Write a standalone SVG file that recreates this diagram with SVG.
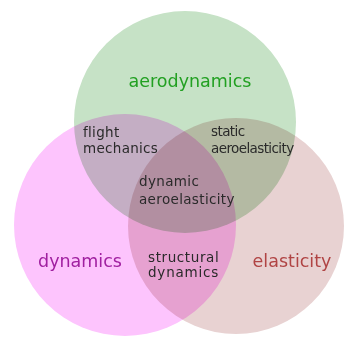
<svg xmlns="http://www.w3.org/2000/svg" width="345" height="337" viewBox="0 0 345 337">
<style>
.c{mix-blend-mode:multiply}
.big{font-family:"DejaVu Sans",sans-serif;font-size:17.5px}
.sm{font-family:"DejaVu Sans",sans-serif;font-size:13.5px;fill:#2a2a2a}
</style>
<rect width="345" height="337" fill="#fff"/>
<g id="aerodynamics">
<circle class="c" cx="185" cy="122" r="111" fill="#c6e2c6"/>
</g>
<g id="dynamics">
<circle class="c" cx="125" cy="225" r="111" fill="#fdc4fd"/>
</g>
<g id="elasticity">
<circle class="c" cx="236" cy="226" r="108" fill="#e8d2d2"/>
</g>
<g id="labels">
<text class="big" x="190" y="87" text-anchor="middle" fill="#22a022">aerodynamics</text>
<text class="big" x="80" y="267" text-anchor="middle" fill="#a020a0">dynamics</text>
<text class="big" x="292" y="267" text-anchor="middle" fill="#b04444">elasticity</text>
<text class="sm" x="83" y="137" style="letter-spacing:0.3px">flight</text>
<text class="sm" x="83" y="153" style="letter-spacing:0.3px">mechanics</text>
<text class="sm" x="211" y="136" style="letter-spacing:-0.6px">static</text>
<text class="sm" x="211" y="153" style="letter-spacing:-0.6px">aeroelasticity</text>
<text class="sm" x="139" y="186" style="letter-spacing:0.35px">dynamic</text>
<text class="sm" x="139" y="204" style="letter-spacing:0.35px">aeroelasticity</text>
<text class="sm" x="148" y="262" style="letter-spacing:0.6px">structural</text>
<text class="sm" x="148" y="277" style="letter-spacing:0.8px">dynamics</text>
</g>
</svg>
